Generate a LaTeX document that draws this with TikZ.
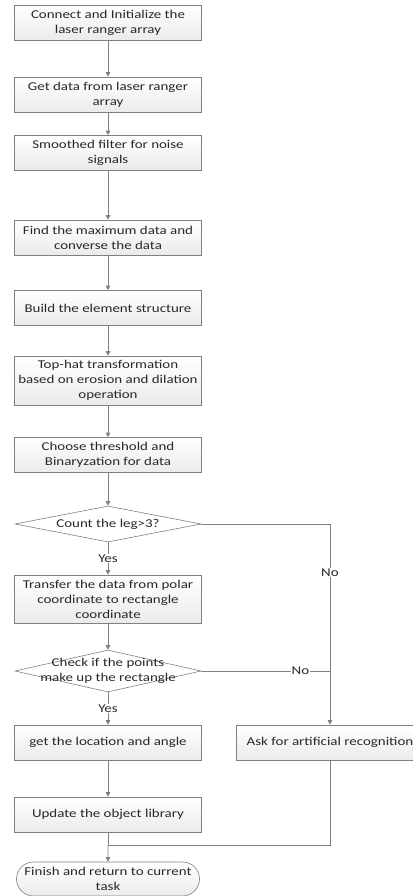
\documentclass[tikz,border=0pt]{standalone}
\usepackage{fontspec}
\setmainfont{Carlito}[FakeStretch=1.25]
\usetikzlibrary{shapes.geometric,shapes.misc,arrows.meta}
\definecolor{linegray}{RGB}{128,128,128}
\definecolor{txtgray}{RGB}{40,40,40}
\begin{document}
\begin{tikzpicture}[x=1bp,y=-1bp,
  font=\fontsize{12}{15}\selectfont, text=txtgray,
  procbox/.style={draw=linegray, line width=0.6bp, top color=white, bottom color=gray!16,
    minimum width=187bp, minimum height=35bp, align=center, inner sep=1bp},
  decbox/.style={diamond, draw=linegray, line width=0.6bp, fill=white,
    minimum width=186bp, minimum height=#1, inner sep=0pt},
  termbox/.style={rounded rectangle, draw=linegray, line width=0.6bp, top color=white, bottom color=gray!16,
    minimum width=185bp, minimum height=34bp, align=center, inner sep=1bp},
  conn/.style={draw=linegray, line width=0.8bp},
  arr/.style={conn, -{Triangle[width=4.5bp,length=4.5bp]}},
  lbl/.style={fill=white, inner sep=1bp}
]
\useasboundingbox (0,0) rectangle (412,896);

\node[procbox] (b1) at (108,22.5) {Connect and Initialize the\\laser ranger array};
\node[procbox] (b2) at (108,94.5) {Get data from laser ranger\\array};
\node[procbox] (b3) at (108,153) {Smoothed filter for noise\\signals};
\node[procbox] (b4) at (108,237.5) {Find the maximum data and\\converse the data};
\node[procbox] (b5) at (108,308) {Build the element structure};
\node[procbox, minimum height=49bp] (b6) at (108,380.5) {Top-hat transformation\\based on erosion and dilation\\operation};
\node[procbox] (b7) at (108,455) {Choose threshold and\\Binaryzation for data};
\node[decbox=36bp] (d1) at (108,524) {};
\node at (d1.center) {Count the leg>3?};
\node[procbox, minimum height=48bp] (b8) at (108,599) {Transfer the data from polar\\coordinate to rectangle\\coordinate};
\node[decbox=42bp] (d2) at (108,671) {};
\node[align=center] at (d2.center) {Check if the points\\make up the rectangle};
\node[procbox] (b9) at (108,742.5) {get the location and angle};
\node[procbox] (b11) at (330,742.5) {Ask for artificial recognition};
\node[procbox] (b10) at (108,814.5) {Update the object library};
\node[termbox] (t) at (108,879) {Finish and return to current\\task};

\coordinate (c1) at (330,524);
\coordinate (c2) at (330,671);
\coordinate (m) at (108,845);
\coordinate (c3) at (330,845);

\draw[arr] (b1) -- (b2);
\draw[arr] (b2) -- (b3);
\draw[arr] (b3) -- (b4);
\draw[arr] (b4) -- (b5);
\draw[arr] (b5) -- (b6);
\draw[arr] (b6) -- (b7);
\draw[arr] (b7) -- (d1);
\draw[arr] (d1) -- node[lbl] {Yes} (b8);
\draw[arr] (b8) -- (d2);
\draw[arr] (d2) -- node[lbl] {Yes} (b9);
\draw[arr] (b9) -- (b10);
\draw[conn] (d1.east) -- (c1) -- node[lbl, pos=0.33] {No} (c2);
\draw[conn] (d2.east) -- node[lbl, pos=0.77] {No} (c2);
\draw[arr] (c2) -- (b11);
\draw[conn] (b10) -- (m);
\draw[conn] (b11) -- (c3) -- (m);
\draw[arr] (m) -- (t);
\end{tikzpicture}
\end{document}
